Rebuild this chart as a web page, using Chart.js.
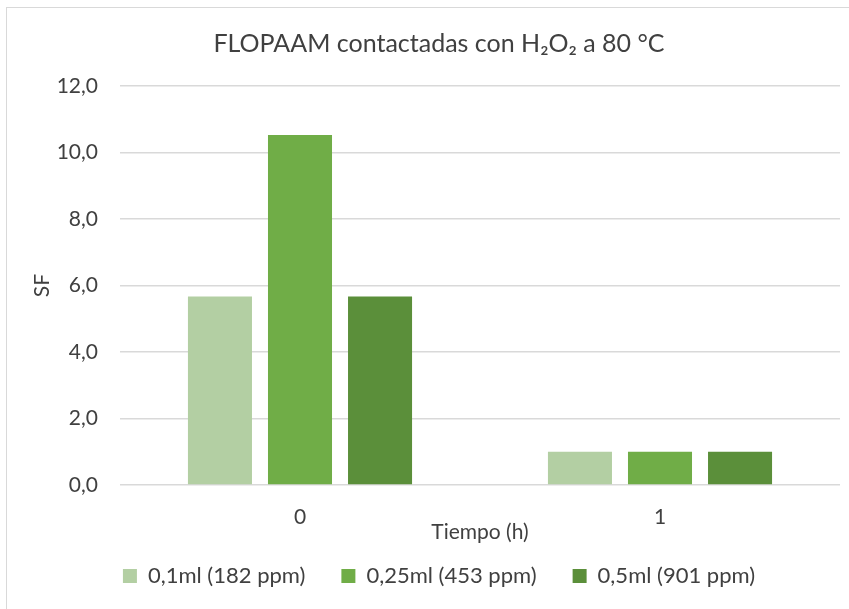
<!DOCTYPE html>
<html>
<head>
<meta charset="utf-8">
<script src="https://cdn.jsdelivr.net/npm/chart.js@4"></script>
<style>
  html, body { margin: 0; padding: 0; background: #fff; }
  #wrap { position: relative; width: 849px; height: 609px; overflow: hidden; background: #fff; }
  #frame { position: absolute; left: 6px; top: 7px; width: 900px; height: 700px; border: 1px solid #d9d9d9; box-sizing: border-box; }
  #c { position: absolute; left: 0; top: 0; }
</style>
</head>
<body>
<div id="wrap">
  <div id="frame"></div>
  <canvas id="c" width="849" height="609"></canvas>
</div>
<script>
const categories = ['0', '1'];
const seriesNames = ['0,1ml (182 ppm)', '0,25ml (453 ppm)', '0,5ml (901 ppm)'];
const series1 = [5.67, 1.0];
const series2 = [10.53, 1.0];
const series3 = [5.67, 1.0];
const seriesColors = ['#b3cfa3', '#70ad47', '#5b8f3a'];
const chartTitle = 'FLOPAAM contactadas con H₂O₂ a 80 °C';
const xTitle = 'Tiempo (h)';
const yTitle = 'SF';

const FONT = 'Lato, "Open Sans", "Noto Sans", sans-serif';
const TXT = '#404040';

new Chart(document.getElementById('c'), {
  type: 'bar',
  data: {
    labels: categories,
    datasets: [series1, series2, series3].map((d, i) => ({
      label: seriesNames[i],
      data: d,
      backgroundColor: seriesColors[i],
      borderWidth: 0,
      categoryPercentage: 0.667,
      barPercentage: 0.8
    }))
  },
  options: {
    responsive: false,
    animation: false,
    layout: { padding: { left: 38, right: 9, top: 0, bottom: 12 } },
    plugins: {
      title: {
        display: true,
        text: chartTitle,
        color: TXT,
        font: { family: FONT, size: 25, weight: 'normal' },
        padding: { top: 29, bottom: 27 }
      },
      legend: {
        position: 'bottom',
        labels: {
          color: TXT,
          font: { family: FONT, size: 22 },
          boxWidth: 14,
          boxHeight: 14,
          padding: 36
        }
      },
      tooltip: { enabled: false }
    },
    scales: {
      x: {
        grid: { display: false, drawTicks: false },
        border: { display: false },
        ticks: { color: TXT, font: { family: FONT, size: 21 }, padding: 20 },
        title: {
          display: true, text: xTitle, color: TXT,
          font: { family: FONT, size: 21 },
          padding: { top: 0, bottom: -16 }
        },
        afterFit: s => { s.height = 44; }
      },
      y: {
        min: 0, max: 12,
        ticks: {
          stepSize: 2,
          color: TXT,
          font: { family: FONT, size: 21 },
          padding: 22,
          callback: v => v.toFixed(1).replace('.', ',')
        },
        grid: { color: '#d9d9d9', lineWidth: 1.5, drawTicks: false },
        border: { display: false },
        title: {
          display: true, text: yTitle, color: TXT,
          font: { family: FONT, size: 21 },
          padding: { top: -8, bottom: 0 }
        },
        afterFit: s => { s.width = 82; }
      }
    }
  }
});
</script>
</body>
</html>
